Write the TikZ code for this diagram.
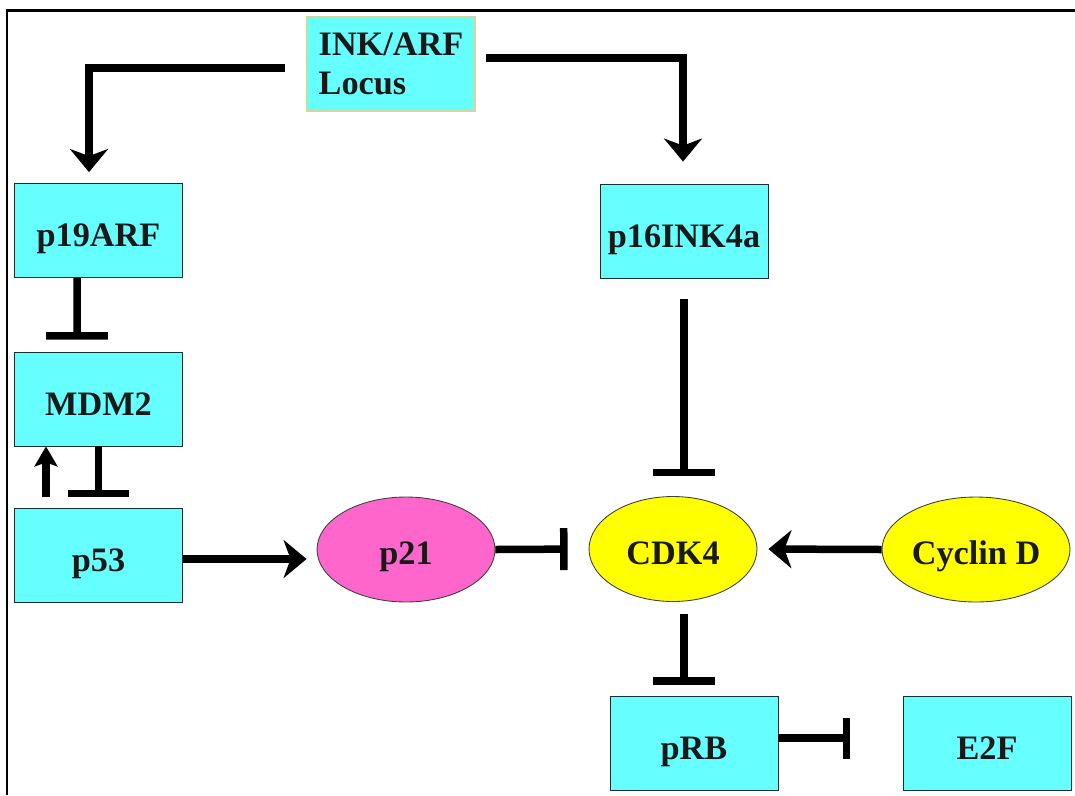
\documentclass[tikz,border=0pt]{standalone}
\usepackage{fontspec}
\setmainfont{Liberation Serif}
\usepackage{tikz}
\usetikzlibrary{arrows.meta,shapes.geometric}
\definecolor{boxcyan}{RGB}{102,255,255}
\definecolor{p21pink}{RGB}{255,102,204}
\definecolor{cdkyellow}{RGB}{255,255,0}
\definecolor{locusrim}{RGB}{214,214,150}
\definecolor{boxrim}{RGB}{20,50,50}

\begin{document}
\begin{tikzpicture}[x=0.02cm,y=-0.02cm,
    every node/.style={font=\fontsize{19.5}{22}\selectfont\bfseries, text=black!90},
    boxbase/.style={rectangle, fill=boxcyan, minimum width=3.36cm, minimum height=1.88cm, inner xsep=2pt},
    gene/.style={boxbase, draw=boxrim, line width=0.5pt, text height=0.65cm, text depth=0pt},
    locus/.style={boxbase, draw=locusrim, line width=1pt, align=left},
    protein/.style={ellipse, draw=black!75, line width=0.5pt, minimum height=2.1cm, inner sep=1pt, text height=0.6cm, text depth=0pt},
    act/.style={line width=0.15cm, -{Stealth[length=0.46cm,width=0.76cm,inset=0.14cm]}},
    actsmall/.style={line width=0.15cm, -{Stealth[length=0.4cm,width=0.46cm,inset=0.08cm]}},
    inh/.style={line width=0.15cm, -{Bar[width=#1]}},
    inh/.default=1.24cm]
      \useasboundingbox (0,0) rectangle (1075,795);
      \draw[line width=0.06cm] (7,795) -- (7,10) -- (1075,10);

      \node[locus] (locus) at (391,64) {INK/ARF\\Locus};
      \node[gene] (p19arf) at (98.5,230.5) {p19ARF};
      \node[gene] (p16) at (684,231) {p16INK4a};
      \node[gene] (mdm2) at (98.5,399) {MDM2\hspace{0.26cm}};
      \node[gene] (p53) at (98.5,555.5) {p53\hspace{0.68cm}};
      \node[protein, fill=p21pink, minimum width=3.56cm] (p21) at (406,549.5) {p21};
      \node[protein, fill=cdkyellow, minimum width=3.36cm] (cdk4) at (673,549) {CDK4};
      \node[protein, fill=cdkyellow, minimum width=3.76cm] (cycd) at (976,549.5) {Cyclin D};
      \node[gene] (prb) at (694,743) {pRB\hspace{0.28cm}};
      \node[gene] (e2f) at (987,743) {E2F};

      \draw[act] ([shift={(-21,4)}]locus.west) -| ([shift={(-9.5,-11)}]p19arf.north);
      \draw[act] ([shift={(10,-6)}]locus.east) -| ([shift={(-1,-22)}]p16.north);
      \draw[inh] ([xshift=-0.43cm]p19arf.south) -- ([shift={(-21.5,-12)}]mdm2.north);
      \draw[actsmall, shorten <=0.22cm] ([xshift=-1.05cm]p53.north) -- ([xshift=-1.05cm]mdm2.south);
      \draw[inh, shorten >=0.22cm] (mdm2.south) -- (p53.north);
      \coordinate (p53out) at ([yshift=-0.07cm]p53.east);
      \draw[act, shorten >=0.2cm] (p53out) -- (p53out -| p21.west);
      \draw[inh=0.84cm, shorten >=0.42cm] (p21.east) -- (cdk4.west);
      \draw[inh, shorten <=0.42cm, shorten >=0.4cm] (p16.south) -- (p16.south |- cdk4.north);
      \draw[act, shorten >=0.22cm] (cycd.west) -- (cdk4.east);
      \draw[inh, shorten <=0.24cm, shorten >=0.22cm] (cdk4.south -| p16.south) -- (prb.north -| p16.south);
      \coordinate (prbout) at ([yshift=0.1cm]prb.east);
      \draw[inh=0.82cm, shorten >=1.05cm] (prbout) -- (prbout -| e2f.west);
    \end{tikzpicture}
\end{document}
